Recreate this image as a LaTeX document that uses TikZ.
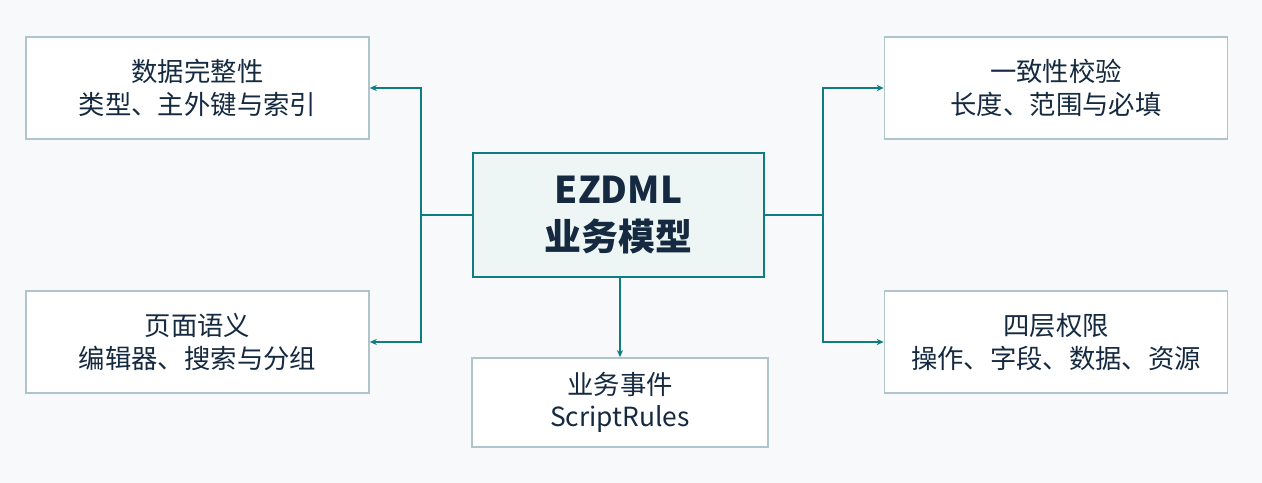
\documentclass[tikz,border=0pt]{standalone}
\usepackage{fontspec}
\setmainfont{Noto Sans CJK SC}
\usetikzlibrary{arrows.meta}
\definecolor{ez teal}{HTML}{0E7C80}
\definecolor{ez gray}{HTML}{B0C4CC}
\definecolor{ez back}{HTML}{F7F9FB}
\definecolor{ez fill}{HTML}{EEF6F5}
\definecolor{ez text}{HTML}{152A40}
\tikzset{
  box/.style={draw=ez gray, line width=1pt, fill=white, text=ez text, align=center,
    minimum width=6.86cm, minimum height=2.04cm, inner sep=0pt, font=\fontsize{15}{18.5}\selectfont},
  core/.style={draw=ez teal, line width=1.2pt, fill=ez fill, text=ez text, align=center,
    minimum width=5.82cm, minimum height=2.48cm, inner sep=0pt, font=\fontsize{21}{27}\selectfont\bfseries},
  link/.style={draw=ez teal, line width=1.1pt, -{Stealth[length=4pt,width=3.5pt]}}
}
\begin{document}
\begin{tikzpicture}[x=0.02cm,y=-0.02cm]
  % background
  \fill[ez back] (0,0) rectangle (1262,483);
  % nodes
  \node[core] (model) at (618.5,215) {EZDML\\业务模型};
  \node[box] (integrity) at (197.5,88) {数据完整性\\类型、主外键与索引};
  \node[box] (page) at (197.5,342) {页面语义\\编辑器、搜索与分组};
  \node[box] (check) at (1056,88) {一致性校验\\长度、范围与必填};
  \node[box] (perm) at (1056,342) {四层权限\\操作、字段、数据、资源};
  \node[box, minimum width=5.92cm, minimum height=1.78cm] (event) at (620,402.5) {业务事件\\ScriptRules};
  % connectors
  \coordinate (lj) at (421,215);
  \coordinate (rj) at (823,215);
  \draw[draw=ez teal, line width=1.1pt] (model.west) -- (lj) (model.east) -- (rj);
  \draw[link] (lj) |- (integrity.east);
  \draw[link] (lj) |- (page.east);
  \draw[link] (rj) |- (check.west);
  \draw[link] (rj) |- (perm.west);
  \draw[link] (model.south -| event.north) -- (event.north);
\end{tikzpicture}
\end{document}
